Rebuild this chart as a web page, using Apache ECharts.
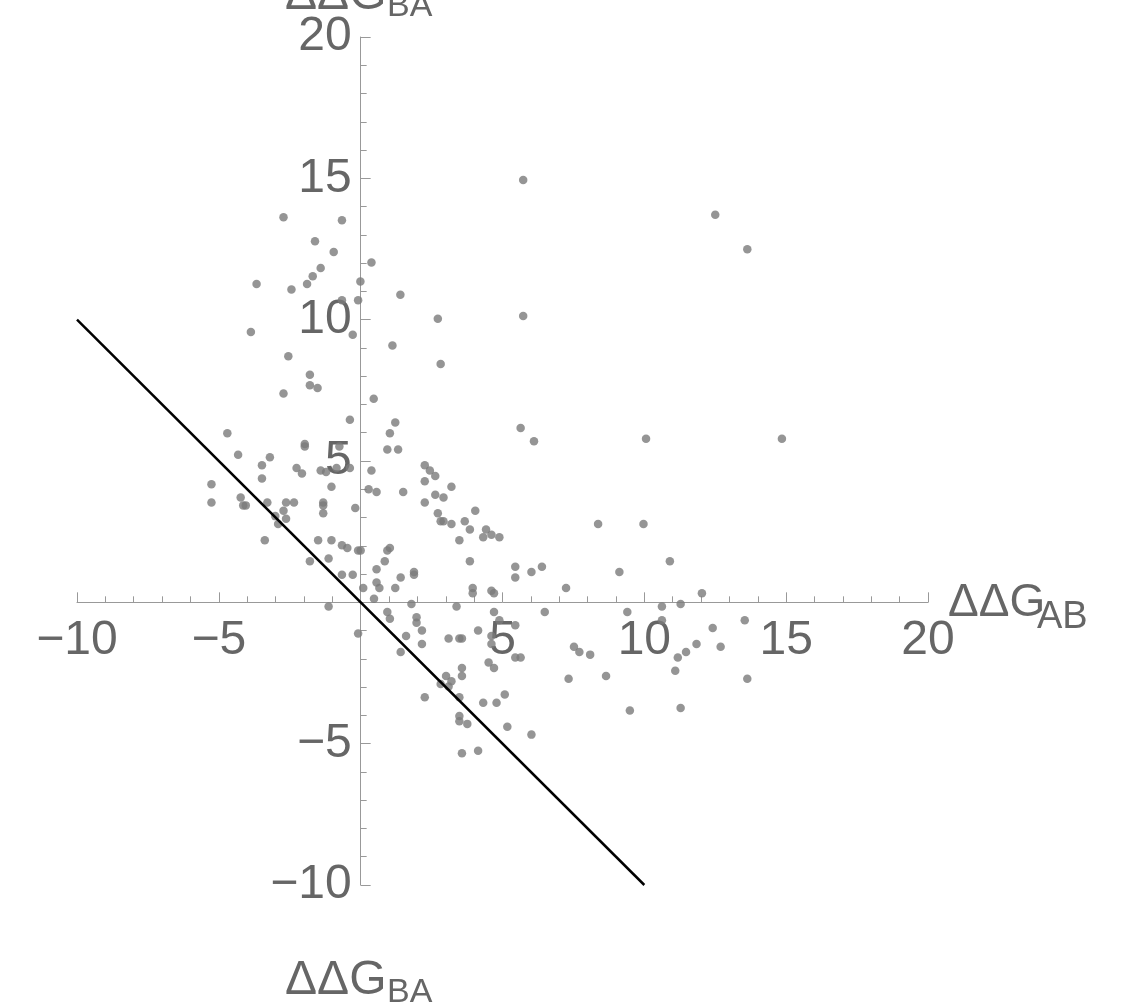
<!DOCTYPE html>
<html><head><meta charset="utf-8">
<script src="https://cdn.jsdelivr.net/npm/echarts@6/dist/echarts.min.js"></script>
<style>html,body{margin:0;padding:0;background:#fff}#c{width:1121px;height:1002px}</style>
</head><body><div id="c"></div>
<script>
// ΔΔG_AB (x) values of each point
const ddgAB = [
-2.72,-0.66,-1.61,-0.95,0.38,-1.41,-1.69,-3.67,-1.89,-0.01,
-2.44,1.40,-0.66,-0.09,-3.87,-0.28,1.12,-2.55,-1.79,-1.79,
-1.52,-2.72,0.46,-0.38,1.22,-4.70,1.03,-1.97,-1.97,-0.75,
0.94,1.32,-4.32,-3.20,-3.48,-2.26,-2.07,-1.41,-1.22,-0.85,
-0.38,0.38,-3.48,-1.03,-5.26,0.28,0.56,1.50,-5.26,-4.23,
-4.14,-4.05,-3.29,-2.63,-2.35,-1.32,-1.32,-0.19,-2.72,-1.32,
-3.01,-2.63,-2.91,-3.38,-1.50,-1.03,-0.66,-0.47,-0.09,0.00,
1.03,0.94,0.85,-1.79,-1.13,0.56,-0.66,-0.28,1.41,0.56,
0.66,0.09,1.22,0.47,-1.13,0.94,1.03,2.26,2.44,2.63,
2.26,3.20,2.63,2.92,2.26,2.72,2.82,2.92,3.20,3.67,
4.04,3.85,3.48,4.42,4.32,4.61,4.89,5.64,6.11,3.85,
1.88,1.88,5.45,5.45,6.02,6.39,3.95,3.95,4.61,4.70,
1.79,3.38,1.97,1.97,4.70,6.49,4.89,5.45,-0.09,2.16,
4.14,1.60,2.16,3.10,3.48,3.57,4.61,4.61,1.41,5.45,
5.64,4.51,4.70,3.57,3.01,3.57,3.20,2.82,3.10,2.26,
3.48,4.32,4.79,5.08,3.48,3.48,3.76,5.17,6.02,3.57,
4.14,7.24,9.12,10.90,12.03,9.40,10.62,11.28,10.62,13.54,
12.41,7.52,7.71,8.09,11.84,12.69,11.47,11.18,11.09,7.33,
8.65,13.63,9.49,11.28,5.73,12.50,13.63,2.72,5.73,2.82,
10.06,14.85,8.37,9.97
];
// ΔΔG_BA (y) values of each point
const ddgBA = [
13.62,13.52,12.77,12.39,12.02,11.83,11.54,11.26,11.26,11.35,
11.07,10.88,10.69,10.69,9.56,9.47,9.09,8.71,8.05,7.68,
7.58,7.39,7.20,6.46,6.36,5.98,5.98,5.60,5.51,5.51,
5.41,5.41,5.22,5.13,4.85,4.75,4.56,4.66,4.61,4.75,
4.75,4.66,4.38,4.09,4.18,4.00,3.90,3.90,3.53,3.71,
3.43,3.43,3.53,3.53,3.53,3.53,3.43,3.34,3.24,3.15,
3.05,2.96,2.77,2.20,2.20,2.20,2.02,1.92,1.83,1.83,
1.92,1.83,1.45,1.45,1.55,1.17,0.98,0.98,0.88,0.70,
0.51,0.51,0.51,0.13,-0.15,-0.34,-0.58,4.85,4.66,4.47,
4.28,4.09,3.81,3.71,3.53,3.15,2.87,2.87,2.77,2.87,
3.24,2.58,2.20,2.58,2.30,2.39,2.30,6.17,5.70,1.45,
1.07,0.98,1.26,0.88,1.07,1.26,0.51,0.32,0.41,0.32,
-0.06,-0.15,-0.53,-0.72,-0.34,-0.34,-0.63,-0.81,-1.10,-1.00,
-1.00,-1.19,-1.47,-1.28,-1.28,-1.28,-1.19,-1.47,-1.76,-1.95,
-1.95,-2.13,-2.32,-2.32,-2.61,-2.61,-2.79,-2.89,-2.98,-3.36,
-3.36,-3.55,-3.55,-3.26,-4.02,-4.21,-4.30,-4.40,-4.68,-5.34,
-5.25,0.51,1.07,1.45,0.32,-0.34,-0.15,-0.06,-0.63,-0.63,
-0.91,-1.57,-1.76,-1.85,-1.47,-1.57,-1.76,-1.95,-2.42,-2.70,
-2.61,-2.70,-3.83,-3.74,14.94,13.71,12.49,10.03,10.13,8.43,
5.79,5.79,2.77,2.77
];
// reference line ΔΔG_BA = −ΔΔG_AB
const lineAB = [-10, 10];
const lineBA = [10, -10];
// axis ranges / tick spacing
const axisMin = -10, axisMax = 20, tickStep = 5;
const axisTitleMain = 'ΔΔG';
const xSub = 'AB', ySub = 'BA';

const FONT = '"Liberation Sans", Arial, sans-serif';
const TXT = '#666666', AX = '#999999';
const fmt = v => v === 0 ? '' : (v < 0 ? '\u2212' + Math.abs(v) : String(v));

const pts = ddgAB.map((x, i) => [x, ddgBA[i]]);
const linePts = lineAB.map((x, i) => [x, lineBA[i]]);

// grid geometry
const G = { left: 77, top: 37, width: 851, height: 848 };
// shift axes so they cross at the data origin
const zeroFracX = (0 - axisMin) / (axisMax - axisMin);
const zeroFracY = (axisMax - 0) / (axisMax - axisMin);
const xOffset = -(G.height * (1 - zeroFracY));   // move x axis up to y=0
const yOffset = -(G.width * zeroFracX);          // move y axis right to x=0

function axisCommon(isX) {
  return {
    type: 'value', min: axisMin, max: axisMax, interval: tickStep,
    offset: isX ? xOffset : yOffset,
    splitLine: { show: false },
    axisLine: { show: true, onZero: false, lineStyle: { color: AX, width: 1 } },
    axisTick: { show: true, inside: true, length: 10, lineStyle: { color: AX, width: 1 } },
    minorTick: { show: true, splitNumber: 5, length: 6, lineStyle: { color: AX, width: 1 } },
    axisLabel: {
      show: true, formatter: fmt, color: TXT, fontSize: 48, lineHeight: 48,
      fontFamily: FONT, margin: isX ? 14 : 9, hideOverlap: false
    }
  };
}

const chart = echarts.init(document.getElementById('c'), null, { renderer: 'canvas' });
chart.setOption({
  backgroundColor: '#ffffff',
  animation: false,
  grid: { left: G.left, top: G.top, width: G.width, height: G.height, containLabel: false, outerBoundsMode: 'none' },
  xAxis: axisCommon(true),
  yAxis: axisCommon(false),
  series: [
    {
      type: 'scatter', data: pts, symbol: 'circle', symbolSize: 8.5,
      itemStyle: { color: '#7a7a7a' }, z: 3, silent: true
    },
    {
      type: 'line', data: linePts, showSymbol: false, symbol: 'none',
      lineStyle: { color: '#000000', width: 2.5 }, z: 4, silent: true
    }
  ],
  graphic: [
    { type: 'text', x: 948, y: 580, style: { text: axisTitleMain, font: '46px ' + FONT, fill: TXT, verticalAlign: 'top', lineHeight: 46 } },
    { type: 'text', x: 1037, y: 598.5, style: { text: xSub, font: '38px ' + FONT, fill: TXT, verticalAlign: 'top', lineHeight: 38 } },
    { type: 'text', x: 285, y: -28, style: { text: axisTitleMain, font: '48px ' + FONT, fill: TXT, verticalAlign: 'top', lineHeight: 48 } },
    { type: 'text', x: 387, y: -10, style: { text: ySub, font: '34px ' + FONT, fill: TXT, verticalAlign: 'top', lineHeight: 34 } },
    { type: 'text', x: 285, y: 957, style: { text: axisTitleMain, font: '48px ' + FONT, fill: TXT, verticalAlign: 'top', lineHeight: 48 } },
    { type: 'text', x: 387, y: 976, style: { text: ySub, font: '34px ' + FONT, fill: TXT, verticalAlign: 'top', lineHeight: 34 } }
  ]
});
</script></body></html>
